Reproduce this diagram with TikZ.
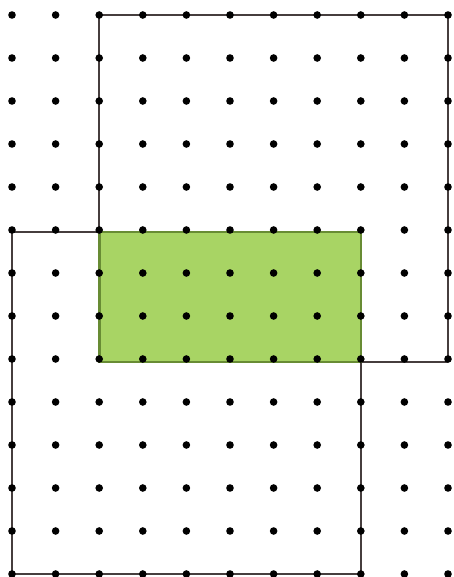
\documentclass[tikz,border=0pt]{standalone}
\usetikzlibrary{calc}
\definecolor{pen}{RGB}{70,62,62}
\definecolor{leaf}{RGB}{168,212,100}
\definecolor{leafedge}{RGB}{104,140,52}
\tikzset{
  outline/.style={draw=pen, line width=2.4pt, line join=round},
  greenbox/.style={fill=leaf, draw=leafedge, line width=2.6pt},
  griddot/.style={fill=black}
}
\begin{document}
\begin{tikzpicture}[x=1pt,y=-1pt]
\useasboundingbox[fill=white] (0,0) rectangle (453,577);
% grid coordinates: columns 12 + 43.6 i, rows 15 + 43 j
\coordinate (A) at (99.2,15);   % top-left of upper rectangle
\coordinate (B) at (448,15);    % top-right of upper rectangle
\coordinate (C) at (448,362);   % bottom-right of upper rectangle
\coordinate (D) at (360.8,362); % green lower-right corner
\coordinate (E) at (99.2,232);  % green upper-left corner
\coordinate (F) at (12,232);    % top-left of lower rectangle
\coordinate (G) at (12,574);    % bottom-left of lower rectangle
\coordinate (H) at (360.8,574); % bottom-right of lower rectangle
% upper rectangle
\draw[outline] (E) -- (A) -- (B) -- (C) -- (D);
% lower rectangle
\draw[outline] (F) -- (E) -- (E -| D);
\draw[outline] (F) -- (G) -- (H) -- (D);
% green overlap
\draw[greenbox] (E) rectangle (D);
% dots
\foreach \i in {0,...,10} {
  \foreach \j in {0,...,13} {
    \fill[griddot] ({12+43.6*\i},{15+43*\j}) circle (3.8pt);
  }
}
\end{tikzpicture}
\end{document}
